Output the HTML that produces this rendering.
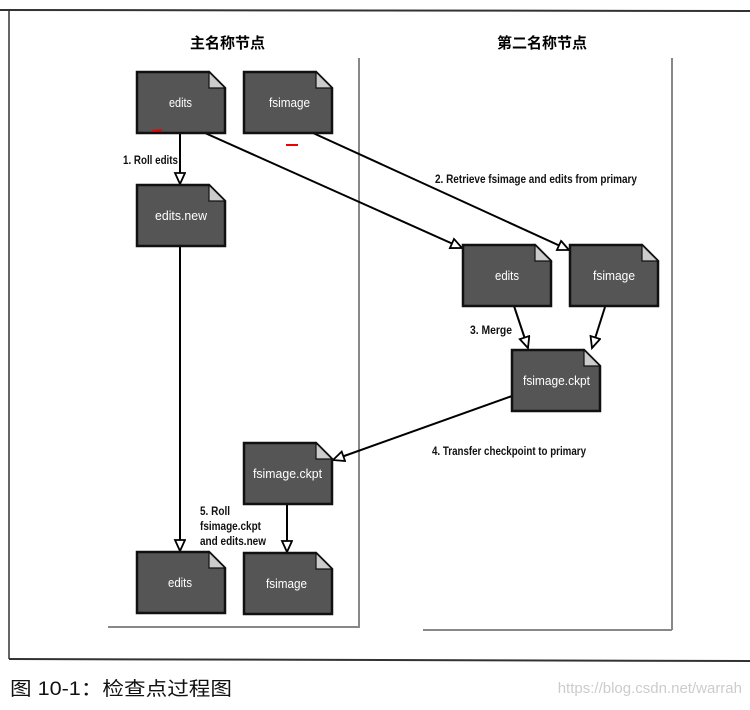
<!DOCTYPE html>
<html><head><meta charset="utf-8"><style>
body{margin:0;background:#fff;}
svg text{font-family:"Liberation Sans","Noto Sans CJK SC",sans-serif;}
</style></head><body>
<svg width="750" height="705" viewBox="0 0 750 705" xmlns="http://www.w3.org/2000/svg">
<defs>
<marker id="a" markerWidth="14" markerHeight="14" refX="12" refY="6" orient="auto" markerUnits="userSpaceOnUse">
<path d="M1,1 L12,6 L1,11 Z" fill="#fff" stroke="#000" stroke-width="1.8"/>
</marker>
<g id="doc">
<path d="M0,0 H72 L88,16 V61 H0 Z" fill="#555" stroke="#111" stroke-width="2.5"/>
<path d="M72,0 L88,16 H72 Z" fill="#ccc" stroke="#111" stroke-width="1.2"/>
</g>
</defs>
<line x1="0" y1="10" x2="750" y2="11" stroke="#333" stroke-width="2"/>
<line x1="9" y1="10" x2="9" y2="659" stroke="#333" stroke-width="1.5"/>
<line x1="9" y1="659" x2="750" y2="661" stroke="#333" stroke-width="2"/>
<line x1="359" y1="58" x2="359" y2="628" stroke="#888" stroke-width="2"/>
<line x1="108" y1="627" x2="359" y2="627" stroke="#888" stroke-width="2"/>
<line x1="672" y1="58" x2="672" y2="630" stroke="#888" stroke-width="2"/>
<line x1="423" y1="630" x2="672" y2="630" stroke="#888" stroke-width="2"/>
<text x="190" y="48" font-size="15" font-weight="bold" font-family="'Noto Sans CJK SC',sans-serif">主名称节点</text>
<text x="497" y="48" font-size="15" font-weight="bold" font-family="'Noto Sans CJK SC',sans-serif">第二名称节点</text>

<g stroke="#000" stroke-width="2" fill="none">
<line x1="180" y1="133" x2="180" y2="184" marker-end="url(#a)"/>
<line x1="205" y1="133" x2="462" y2="248" marker-end="url(#a)"/>
<line x1="313" y1="133" x2="569" y2="250" marker-end="url(#a)"/>
<line x1="514" y1="306" x2="528" y2="348" marker-end="url(#a)"/>
<line x1="605" y1="307" x2="592" y2="348" marker-end="url(#a)"/>
<line x1="512" y1="396" x2="333" y2="460" marker-end="url(#a)"/>
<line x1="180" y1="246" x2="180" y2="551" marker-end="url(#a)"/>
<line x1="287" y1="503" x2="287" y2="552" marker-end="url(#a)"/>
</g>

<use href="#doc" x="137" y="72"/>
<use href="#doc" x="244" y="72"/>
<use href="#doc" x="137" y="185"/>
<use href="#doc" x="463" y="245"/>
<use href="#doc" x="570" y="245"/>
<use href="#doc" x="512" y="350"/>
<use href="#doc" x="244" y="443"/>
<use href="#doc" x="137" y="552"/>
<use href="#doc" x="244" y="553"/>

<g fill="#fff" font-size="13">
<text x="169" y="107" textLength="23" lengthAdjust="spacingAndGlyphs">edits</text>
<text x="269" y="107" textLength="41" lengthAdjust="spacingAndGlyphs">fsimage</text>
<text x="155" y="220" textLength="52" lengthAdjust="spacingAndGlyphs">edits.new</text>
<text x="495" y="280" textLength="24" lengthAdjust="spacingAndGlyphs">edits</text>
<text x="593" y="280" textLength="42" lengthAdjust="spacingAndGlyphs">fsimage</text>
<text x="523" y="385" textLength="67" lengthAdjust="spacingAndGlyphs">fsimage.ckpt</text>
<text x="253" y="478" textLength="69" lengthAdjust="spacingAndGlyphs">fsimage.ckpt</text>
<text x="168" y="587" textLength="24" lengthAdjust="spacingAndGlyphs">edits</text>
<text x="266" y="588" textLength="41" lengthAdjust="spacingAndGlyphs">fsimage</text>
</g>

<g font-size="12" font-weight="bold" fill="#111">
<text x="123" y="164" textLength="55" lengthAdjust="spacingAndGlyphs">1. Roll edits</text>
<text x="435" y="183" textLength="202" lengthAdjust="spacingAndGlyphs">2. Retrieve fsimage and edits from primary</text>
<text x="470" y="334" textLength="42" lengthAdjust="spacingAndGlyphs">3. Merge</text>
<text x="432" y="455" textLength="154" lengthAdjust="spacingAndGlyphs">4. Transfer checkpoint to primary</text>
<text x="200" y="515" textLength="30" lengthAdjust="spacingAndGlyphs">5. Roll</text>
<text x="200" y="530" textLength="61" lengthAdjust="spacingAndGlyphs">fsimage.ckpt</text>
<text x="200" y="545" textLength="66" lengthAdjust="spacingAndGlyphs">and edits.new</text>
</g>

<line x1="152" y1="131" x2="162" y2="130" stroke="#e00" stroke-width="2"/>
<line x1="286" y1="145" x2="298" y2="145" stroke="#e00" stroke-width="2"/>

<text x="10" y="695" font-size="19" font-family="'Noto Sans CJK SC',sans-serif" fill="#111" textLength="222" lengthAdjust="spacingAndGlyphs">图 10-1：检查点过程图</text>
<text x="742" y="693" font-size="15" text-anchor="end" fill="#ccc" font-family="'Liberation Sans',sans-serif">https://blog.csdn.net/warrah</text>
</svg>
</body></html>
